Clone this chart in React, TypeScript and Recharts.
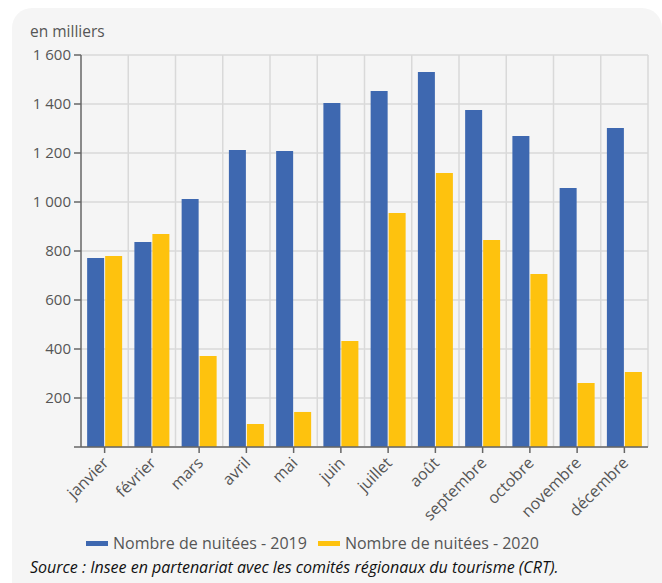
import { BarChart, Bar, XAxis, YAxis, CartesianGrid } from 'recharts';

// Nuitées mensuelles, en milliers
const months = [
  'janvier', 'février', 'mars', 'avril', 'mai', 'juin',
  'juillet', 'août', 'septembre', 'octobre', 'novembre', 'décembre',
];
const nuitees2019 = [771, 837, 1012, 1212, 1208, 1404, 1453, 1531, 1376, 1269, 1057, 1302];
const nuitees2020 = [780, 869, 371, 94, 143, 433, 955, 1118, 845, 706, 261, 306];
const yTicks = [0, 200, 400, 600, 800, 1000, 1200, 1400, 1600];

const BLUE = '#3e68b0';
const YELLOW = '#fec20e';
const FONT = '"Open Sans", sans-serif';

const data = months.map((m, i) => ({
  month: m,
  y2019: nuitees2019[i],
  y2020: nuitees2020[i],
}));

const formatThousands = (v: number) =>
  v === 0 ? '' : String(v).replace(/\B(?=(\d{3})+(?!\d))/g, ' ');

function MonthTick({ x, y, payload }: any) {
  const ax = x + 5;
  const ay = y + 9;
  return (
    <text
      x={ax}
      y={ay}
      textAnchor="end"
      fill="#555"
      fontSize={16}
      fontFamily={FONT}
      transform={`rotate(-45, ${ax}, ${ay})`}
    >
      {payload.value}
    </text>
  );
}

// vertical grid lines sit between the months, not on the ticks
const bandBoundaries = ({ offset }: any) => {
  const step = offset.width / months.length;
  return months.map((_, i) => offset.left + step * (i + 1));
};

function LegendItem({ color, label }: { color: string; label: string }) {
  return (
    <span style={{ display: 'inline-flex', alignItems: 'center', marginRight: 11 }}>
      <span style={{ width: 22, height: 5, background: color, marginRight: 5 }} />
      <span>{label}</span>
    </span>
  );
}

export default function App() {
  return (
    <div style={{ position: 'absolute', left: 0, top: 0, width: 662, height: 583, background: '#fff', overflow: 'hidden', fontFamily: FONT }}>
      <div style={{ position: 'absolute', left: 12, top: 8, width: 650, height: 600, background: '#f5f5f5', borderRadius: 20 }} />
      <div style={{ position: 'absolute', left: 30, top: 20, fontSize: 15.5, color: '#555' }}>en milliers</div>
      <div style={{ position: 'absolute', left: 0, top: 0 }}>
        <BarChart
          width={662}
          height={532}
          data={data}
          margin={{ top: 55, right: 14, bottom: 12, left: 0 }}
          barCategoryGap="13%"
          barGap={1}
        >
          <CartesianGrid
            stroke="#d9d9d9"
            strokeWidth={1.5}
            verticalCoordinatesGenerator={bandBoundaries}
          />
          <XAxis
            dataKey="month"
            height={73}
            interval={0}
            tickSize={6}
            tickMargin={2}
            axisLine={{ stroke: '#666', strokeWidth: 1.5 }}
            tickLine={{ stroke: '#666', strokeWidth: 1.5 }}
            tick={<MonthTick />}
          />
          <YAxis
            width={81}
            domain={[0, 1600]}
            ticks={yTicks}
            interval={0}
            tickSize={7}
            tickMargin={3}
            tickFormatter={formatThousands}
            axisLine={{ stroke: '#666', strokeWidth: 1.5 }}
            tickLine={{ stroke: '#666', strokeWidth: 1.5 }}
            tick={{ fill: '#555', fontSize: 15, fontFamily: FONT }}
          />
          <Bar dataKey="y2019" name="Nombre de nuitées - 2019" fill={BLUE} isAnimationActive={false} />
          <Bar dataKey="y2020" name="Nombre de nuitées - 2020" fill={YELLOW} isAnimationActive={false} />
        </BarChart>
      </div>
      <div style={{ position: 'absolute', left: 86, top: 532, fontSize: 16, color: '#555', display: 'flex', whiteSpace: 'nowrap' }}>
        <LegendItem color={BLUE} label="Nombre de nuitées - 2019" />
        <LegendItem color={YELLOW} label="Nombre de nuitées - 2020" />
      </div>
      <div style={{ position: 'absolute', left: 30, top: 556, fontSize: 16, fontStyle: 'italic', color: '#111', whiteSpace: 'nowrap' }}>
        Source : Insee en partenariat avec les comités régionaux du tourisme (CRT).
      </div>
    </div>
  );
}
